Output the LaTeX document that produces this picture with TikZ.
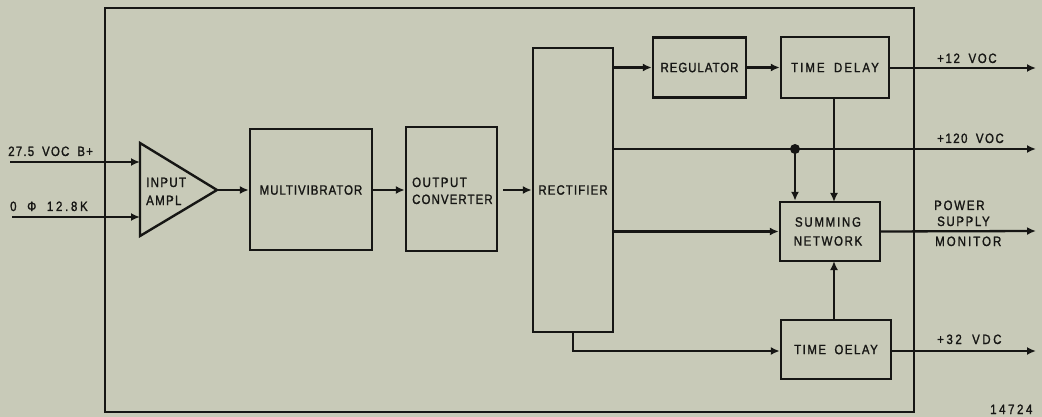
\documentclass[tikz,border=0pt]{standalone}
\usepackage{fontspec}
\setmainfont{Liberation Sans}[FakeStretch=0.85, FakeBold=1.4, WordSpace=1.8]
\usetikzlibrary{arrows.meta}
\definecolor{paper}{RGB}{200,202,184}
\definecolor{ink}{RGB}{22,22,20}
\newcommand\lsfont[1]{\fontsize{13.5}{16}\selectfont\addfontfeatures{LetterSpace=#1}}
\tikzset{
  blk/.style={draw=ink, line width=2.4pt, minimum width=#1},
  lbl/.style={font=\lsfont{#1}, text=ink, inner sep=0pt},
  lbl/.default=8,
  wire/.style={draw=ink, line width=2.3pt},
  flow/.style={wire, -{Latex[length=9pt,width=8pt]}},
}
\begin{document}
\begin{tikzpicture}[x=1pt,y=-1pt]
\fill[paper] (0,0) rectangle (1042,417);
\useasboundingbox (0,0) rectangle (1042,417);
% outer frame
\draw[draw=ink, line width=2.4pt] (105,8) rectangle (914,412);
% amplifier
\coordinate (ampA) at (140,143);
\coordinate (ampB) at (140,236);
\coordinate (ampO) at (217,190);
\draw[draw=ink, line width=2.4pt, line join=miter] (ampA) -- (ampO) -- (ampB) -- cycle;
\node[lbl=10, anchor=base west] (amptxt1) at (146,187) {INPUT};
\node[lbl=10, anchor=base west] (amptxt2) at (146,205) {AMPL};
% blocks
\node[blk=122pt, minimum height=121pt] (mv) at (311,189.5) {};
\node[lbl=7] (mvtxt) at (311,190) {MULTIVIBRATOR};
\node[blk=91pt, minimum height=124pt] (oc) at (451.5,189) {};
\node[lbl=11, anchor=base west] (octxt1) at (412,187) {OUTPUT};
\node[lbl=8, anchor=base west] (octxt2) at (412,204) {CONVERTER};
\node[blk=80pt, minimum height=284pt] (rect) at (573,190) {};
\node[lbl=8] (recttxt) at (573,190) {RECTIFIER};
\node[blk=93pt, minimum height=60pt, lbl=7] (reg) at (699.5,67.5) {REGULATOR};
\node[blk=108pt, minimum height=61pt, lbl=15] (tdA) at (835,67.5) {TIME DELAY};
\node[blk=100pt, minimum height=59pt] (sum) at (830,231.5) {};
\node[lbl=13] (sumtxt1) at (828,222) {SUMMING};
\node[lbl=12] (sumtxt2) at (828,241) {NETWORK};
\node[blk=110pt, minimum height=59pt, lbl=11] (tdB) at (836,349.5) {TIME OELAY};
% inputs
\coordinate (in1) at (10,162);
\coordinate (in2) at (12,217);
\draw[flow] (in1) -- (ampA |- in1);
\draw[flow] (in2) -- (ampA |- in2);
\node[lbl=9, anchor=base west] (l1) at (8,156) {27.5 VOC B+};
\node[lbl=20, anchor=base west] (l2) at (10,211) {0 Φ 12.8K};
% chain
\draw[flow] (ampO) -- (mv.west |- ampO);
\draw[flow] (mv.east |- ampO) -- (oc.west |- ampO);
\draw[flow, shorten <=5pt] (oc.east |- ampO) -- (rect.west |- ampO);
% rectifier outputs
\draw[flow] (rect.east |- reg.west) -- (reg.west);
\draw[flow] (reg.east) -- (tdA.west);
\coordinate (o1) at (1036,68);
\coordinate (o2) at (1036,149);
\coordinate (o3) at (1036,231);
\coordinate (o4) at (1036,351);
\draw[flow] (tdA.east |- o1) -- (o1);
\draw[flow] (rect.east |- o2) -- (o2);
\coordinate (dot) at (795,149);
\fill[ink] (dot) circle (5pt);
\draw[flow] (dot) -- (dot |- sum.north);
\draw[flow] (834,98) -- (834,202);
\draw[flow] (rect.east |- sum.west) -- (sum.west);
\draw[flow] (sum.east) -- (o3);
\draw[flow] (834,320) -- (834,261);
\coordinate (rb) at (573,351);
\draw[flow] (rect.south) -- (rb) -- (tdB.west |- rb);
\draw[flow] (tdB.east |- o4) -- (o4);
% output labels
\node[lbl=12, anchor=base west] (t1) at (937,63) {+12 VOC};
\node[lbl=11, anchor=base west] (t2) at (937,143) {+120 VOC};
\node[lbl=13, anchor=base west] (t3a) at (934,210) {POWER};
\node[lbl=12, anchor=base west] (t3b) at (937,226) {SUPPLY};
\node[lbl=15, anchor=base west] (t3c) at (935,246) {MONITOR};
\node[lbl=19, anchor=base west] (t4) at (937,344) {+32 VDC};
\node[lbl=19, anchor=base west] (num) at (990,414) {14724};
\end{tikzpicture}
\end{document}
